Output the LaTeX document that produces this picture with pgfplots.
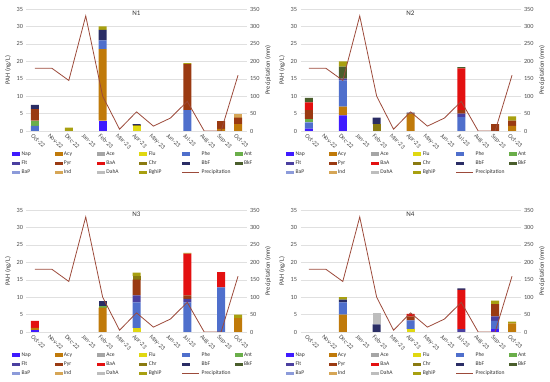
\documentclass[border=0pt]{standalone}
\usepackage{fontspec}
\setmainfont{Carlito}
\usepackage{pgfplots}
\usepackage{pgfplotstable}
\pgfplotsset{compat=1.18}

\definecolor{cNap}{HTML}{3F1BFF}
\definecolor{cAcy}{HTML}{C07A0A}
\definecolor{cAce}{HTML}{A5A5A5}
\definecolor{cFlu}{HTML}{E0D810}
\definecolor{cPhe}{HTML}{4F6FCC}
\definecolor{cAnt}{HTML}{6AAE4A}
\definecolor{cFlt}{HTML}{4A3FA0}
\definecolor{cPyr}{HTML}{9A3A12}
\definecolor{cBaA}{HTML}{E31010}
\definecolor{cChr}{HTML}{8A7A10}
\definecolor{cBbF}{HTML}{2A2D65}
\definecolor{cBkF}{HTML}{4A5E2C}
\definecolor{cBaP}{HTML}{8C9BDA}
\definecolor{cInd}{HTML}{D6A656}
\definecolor{cDahA}{HTML}{BDBDBD}
\definecolor{cBghiP}{HTML}{A8A010}
\definecolor{cPrec}{HTML}{9C4A3A}

\pgfplotstableread{
x Nap Acy Ace Flu Phe Ant Flt Pyr BaA Chr BbF BkF BaP Ind DahA BghiP
0 0 0 0 0 1.5 1.5 0 3.3 0 0 1.2 0 0 0 0 0
2 0 0 0 0 0 0 0 0 0 0 0 0 0 0 0 1.0
4 3.0 20.5 0 0 2.5 0 0 0 0 0 3.0 0 0 0 0 1.0
6 0 0 0 1.3 0 0 0 0 0 0.3 0.4 0 0 0 0 0
9 0 0 0 0 6.0 0 0 13.2 0 0 0 0 0 0 0 0.3
11 0 0.6 0 0 0 0 0 2.2 0 0 0 0 0 0 0 0
12 0 2.0 0 0 0 0 0 1.8 0 0 0 0 0 1.2 0 0
}\tA
\pgfplotstableread{
x Nap Acy Ace Flu Phe Ant Flt Pyr BaA Chr BbF BkF BaP Ind DahA BghiP
0 0.7 0 0 0 1.8 1.0 0 2.5 2.2 0 0 1.3 0 0 0 0
2 4.5 2.5 0 0 7.5 0 0.5 0 0 0 0 3.5 0 0 0 1.5
4 0 0 0 0 0 0 0 0 0 2.0 1.8 0 0 0 0 0
6 0 5.0 0 0 0 0 0 0 0 0 0.3 0 0 0 0 0
9 0 0 0 0 4.0 0 1.0 1.0 12.0 0 0 0.3 0 0 0 0
11 0 0 0 0 0 0 0 2.0 0 0 0 0 0 0 0 0
12 0 1.5 0 0 0 0 0 1.5 0 0 0 0 0 0 0 1.2
}\tB
\pgfplotstableread{
x Nap Acy Ace Flu Phe Ant Flt Pyr BaA Chr BbF BkF BaP Ind DahA BghiP
0 0.6 0.6 0 0 0 0 0 0 2.0 0 0 0 0 0 0 0
4 0 7.0 0 0 0 0.5 0 0 0 0 1.3 0 0 0 0 0
6 0 0 0 1.2 7.3 0 2.0 4.5 0 1.0 0 0 0 0 0 1.0
9 0 0 0 0 8.5 0 1.0 1.0 12.0 0 0 0 0 0 0 0.2
11 0 0 0 0 12.8 0 0 0 4.4 0 0 0 0 0 0 0
12 0 4.0 0 0 0 0 0 0 0 0 0 0 0 0 0 1.0
}\tC
\pgfplotstableread{
x Nap Acy Ace Flu Phe Ant Flt Pyr BaA Chr BbF BkF BaP Ind DahA BghiP
2 0 5.0 0 0 3.5 0 0 0 0 0 0.8 0 0 0 0 0.7
4 0 0 0 0 0 0 0 0 0 0 2.2 0 0 0 3.3 0
6 0 0 0 0.8 2.5 0 0 1.2 0.7 0 0 0 0 0 0 0
9 0 0 0 0 0 0 0.8 0 11.3 0 0.4 0 0 0 0 0
11 0.8 0 0 0 2.4 0 1.3 3.5 0 0 0 0 0 0 0 1.0
12 0 2.5 0 0 0 0 0 0 0 0 0 0 0 0 0 0.5
}\tD
\pgfplotstableread{
x p
0 180
1 180
2 145
3 330
4 100
5 5
6 55
7 14
8 37
9 85
10 0
11 0
12 160
}\tP

\newcommand\stackbars[1]{%
 \addplot[fill=cNap,draw=none] table[x=x,y=Nap]{#1};
 \addplot[fill=cAcy,draw=none] table[x=x,y=Acy]{#1};
 \addplot[fill=cAce,draw=none] table[x=x,y=Ace]{#1};
 \addplot[fill=cFlu,draw=none] table[x=x,y=Flu]{#1};
 \addplot[fill=cPhe,draw=none] table[x=x,y=Phe]{#1};
 \addplot[fill=cAnt,draw=none] table[x=x,y=Ant]{#1};
 \addplot[fill=cFlt,draw=none] table[x=x,y=Flt]{#1};
 \addplot[fill=cPyr,draw=none] table[x=x,y=Pyr]{#1};
 \addplot[fill=cBaA,draw=none] table[x=x,y=BaA]{#1};
 \addplot[fill=cChr,draw=none] table[x=x,y=Chr]{#1};
 \addplot[fill=cBbF,draw=none] table[x=x,y=BbF]{#1};
 \addplot[fill=cBkF,draw=none] table[x=x,y=BkF]{#1};
 \addplot[fill=cBaP,draw=none] table[x=x,y=BaP]{#1};
 \addplot[fill=cInd,draw=none] table[x=x,y=Ind]{#1};
 \addplot[fill=cDahA,draw=none] table[x=x,y=DahA]{#1};
 \addplot[fill=cBghiP,draw=none] table[x=x,y=BghiP]{#1};
}
\newcommand\legbar[2]{\addlegendimage{legend image code/.code={\fill[#1] (0pt,-1.2pt) rectangle (7pt,1.2pt);}}\addlegendentry{#2}}

\pgfplotsset{
 base/.style={scale only axis, width=220pt, height=122pt, xmin=-0.5, xmax=12.5, anchor=south west,
   axis line style={draw=none}, tick style={draw=none},
   ticklabel style={font=\fontsize{6.3}{7}\selectfont, text=black!70},
   label style={font=\fontsize{6.5}{7.5}\selectfont, text=black!80},
   /pgf/number format/assume math mode=true},
}

\newcommand\panel[4]{%
\begin{axis}[base, at={(#1,#2)}, ymin=0, ymax=35, ytick={0,5,...,35},
  ymajorgrids, grid style={black!12, line width=0.4pt}, ybar stacked, bar width=8pt,
  xtick={0,...,12},
  xticklabels={Oct-22,Nov-22,Dec-22,Jan-23,Feb-23,Mar-23,Apr-23,May-23,Jun-23,Jul-23,Aug-23,Sep-23,Oct-23},
  xticklabel style={rotate=-45, anchor=north west, xshift=-3pt, yshift=1pt},
  ylabel={PAH (ng/L)}, ylabel style={at={(axis description cs:-0.084,0.5)}, anchor=center}]
 \stackbars{#4}
 \node[font=\fontsize{7}{8}\selectfont, text=black!80] at (axis description cs:0.5,0.965) {#3};
\end{axis}
\begin{axis}[base, at={(#1,#2)}, ymin=0, ymax=350, ytick={0,50,...,350},
  axis y line*=right, axis x line=none, xtick=\empty,
  ylabel={Precipitation (mm)}, ylabel style={at={(axis description cs:1.098,0.5)}, anchor=center},
  legend columns=6, legend cell align=left,
  legend style={at={(axis description cs:-0.066,-0.165)}, anchor=north west, draw=none, fill=none,
    inner sep=0pt, row sep=4.3pt, font=\fontsize{5.6}{6.5}\selectfont, text=black!80,
    nodes={text width=30.5pt, inner sep=0pt, text height=4pt, text depth=1pt, align=left},
    /tikz/every odd column/.append style={column sep=2pt},
    /tikz/every even column/.append style={column sep=2.5pt}}]
 \legbar{cNap}{Nap}\legbar{cAcy}{Acy}\legbar{cAce}{Ace}\legbar{cFlu}{Flu}\legbar{cPhe}{Phe}\legbar{cAnt}{Ant}
 \legbar{cFlt}{Flt}\legbar{cPyr}{Pyr}\legbar{cBaA}{BaA}\legbar{cChr}{Chr}\legbar{cBbF}{BbF}\legbar{cBkF}{BkF}
 \legbar{cBaP}{BaP}\legbar{cInd}{Ind}\legbar{cDahA}{DahA}\legbar{cBghiP}{BghiP}
 \addplot[color=cPrec, line width=0.8pt] table[x=x,y=p]{\tP};
 \addlegendentry{Precipitation}
\end{axis}
}

\begin{document}
\begin{tikzpicture}
\useasboundingbox (0,0) rectangle (550pt,382pt);
\panel{26.5pt}{251pt}{N1}{\tA}
\panel{300.5pt}{251pt}{N2}{\tB}
\panel{26.5pt}{50pt}{N3}{\tC}
\panel{300.5pt}{50pt}{N4}{\tD}
\end{tikzpicture}
\end{document}
